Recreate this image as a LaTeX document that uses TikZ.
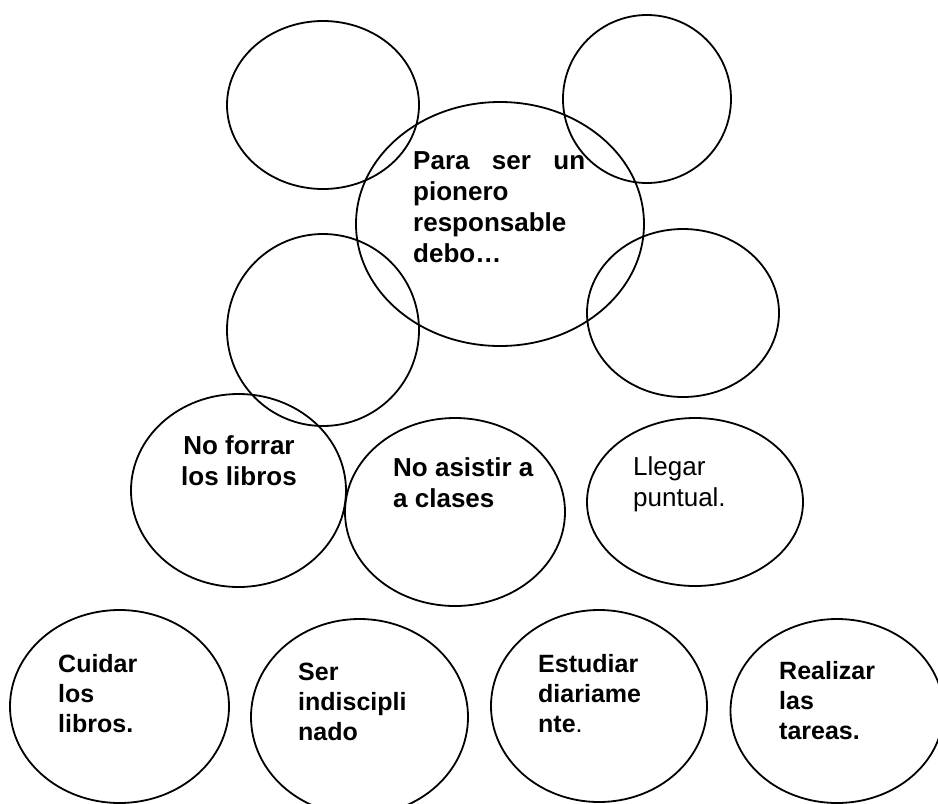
\documentclass[tikz,border=0pt]{standalone}
\usepackage{fontspec}
\setmainfont{Liberation Sans}
\usetikzlibrary{shapes.geometric}
\begin{document}
\begin{tikzpicture}[x=1pt,y=-1pt,
  bub/.style 2 args={draw=black, line width=1.8pt, ellipse, inner sep=0pt,
    minimum width=#1pt, minimum height=#2pt},
  txt/.style={anchor=base west, inner sep=0pt, align=left,
    font=\bfseries\fontsize{26}{31}\selectfont},
  txtb/.style={anchor=base west, inner sep=0pt, align=left,
    font=\bfseries\fontsize{25}{30}\selectfont}]
\useasboundingbox (0,0) rectangle (938,804);
\clip (0,0) rectangle (938,804);
\fill[white] (0,0) rectangle (938,804);
% bubbles
\node[bub={192}{168}] (tl) at (323,105) {};
\node[bub={168}{168}] (tr) at (647,99) {};
\node[bub={288}{244}] (c) at (500,224) {};
\node[bub={192}{192}] (ml) at (323,330) {};
\node[bub={192}{168}] (mr) at (683,313) {};
\node[bub={215}{193}] (forrar) at (238.5,490.5) {};
\node[bub={220}{188}] (asistir) at (455,512) {};
\node[bub={216}{168}] (llegar) at (695,502) {};
\node[bub={219}{193}] (cuidar) at (119.5,706.5) {};
\node[bub={217}{196}] (ser) at (359.5,717) {};
\node[bub={216}{192}] (estudiar) at (599,706) {};
\node[bub={213}{184}] (realizar) at (837,711) {};
% texts (anchored at the baseline of the last line)
\node[txt] (tc) at (413,262) {\hbox to 172pt{Para\hfill ser\hfill un}\\pionero\\responsable\\debo…};
\node[txt, align=center, anchor=base] (tforrar) at (239,485) {No forrar\\los libros};
\node[txt] (tasistir) at (393,507) {No asistir a\\a clases};
\node[txt, font=\fontsize{26}{31}\selectfont] (tllegar) at (633,506) {Llegar\\puntual.};
\node[txtb] (tcuidar) at (58,732) {Cuidar\\los\\libros.};
\node[txtb] (tser) at (298,740) {Ser\\indiscipli\\nado};
\node[txtb] (testudiar) at (538,732) {Estudiar\\diariame\\nte{\mdseries.}};
\node[txtb] (trealizar) at (779,739) {Realizar\\las\\tareas.};
\end{tikzpicture}
\end{document}
